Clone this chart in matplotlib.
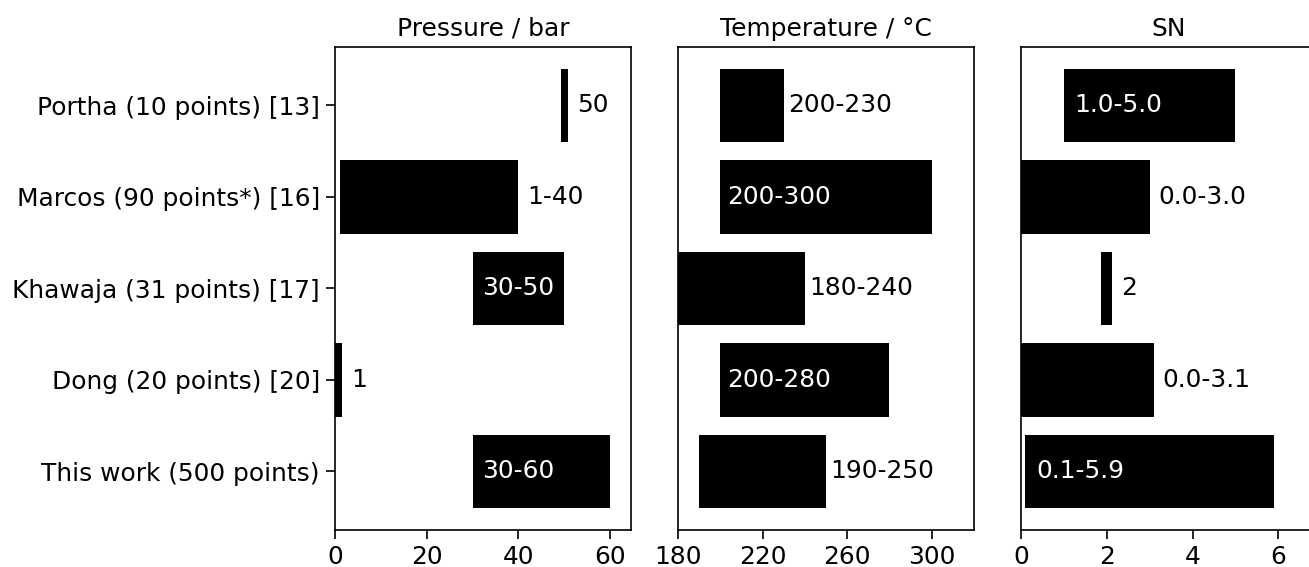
import matplotlib
matplotlib.use("Agg")
import matplotlib.pyplot as plt

studies = [
    "Portha (10 points) [13]",
    "Marcos (90 points*) [16]",
    "Khawaja (31 points) [17]",
    "Dong (20 points) [20]",
    "This work (500 points)",
]

# bar extents (start, end)
p_lo = [49.25, 1, 30, 0, 30]
p_hi = [50.75, 40, 50, 1.5, 60]
p_text = ["50", "1-40", "30-50", "1", "30-60"]
p_inside = [False, False, True, False, True]

t_lo = [200, 200, 180, 200, 190]
t_hi = [230, 300, 240, 280, 250]
t_text = ["200-230", "200-300", "180-240", "200-280", "190-250"]
t_inside = [False, True, False, True, False]

s_lo = [1.0, 0.0, 1.875, 0.0, 0.1]
s_hi = [5.0, 3.0, 2.125, 3.1, 5.9]
s_text = ["1.0-5.0", "0.0-3.0", "2", "0.0-3.1", "0.1-5.9"]
s_inside = [True, False, False, False, True]

panels = [
    ("Pressure / bar", p_lo, p_hi, p_text, p_inside, (0, 64.6), [0, 20, 40, 60], 2.0, 2.0),
    ("Temperature / °C", t_lo, t_hi, t_text, t_inside, (180, 320), [180, 220, 260, 300], 2.0, 3.0),
    ("SN", s_lo, s_hi, s_text, s_inside, (0, 6.9), [0, 2, 4, 6], 0.2, 0.25),
]

fs = 17.9
plt.rcParams["axes.linewidth"] = 1.2
fig = plt.figure(figsize=(13.09, 5.67), dpi=100)
lefts = [0.256, 0.518, 0.780]
axes = [fig.add_axes([l, 0.0653, 0.2261, 0.852]) for l in lefts]

y = list(range(len(studies)))
for ax, (title, lo, hi, txt, inside, xlim, ticks, pad_out, pad_in) in zip(axes, panels):
    widths = [h - l for l, h in zip(lo, hi)]
    ax.barh(y, widths, left=lo, height=0.8, color="black")
    for yi, l, h, s, ins in zip(y, lo, hi, txt, inside):
        if ins:
            ax.text(l + pad_in, yi, s, color="white", va="center", ha="left", fontsize=fs)
        else:
            ax.text(h + pad_out, yi, s, color="black", va="center", ha="left", fontsize=fs)
    ax.set_xlim(*xlim)
    ax.set_xticks(ticks)
    ax.set_title(title, fontsize=fs, pad=8)
    ax.tick_params(labelsize=fs, length=6.5, width=1.2, pad=4.5)
    ax.invert_yaxis()

axes[0].set_yticks(y)
axes[0].set_yticklabels(studies)
for ax in axes[1:]:
    ax.set_yticks([])

fig.savefig("out.png", dpi=100)
